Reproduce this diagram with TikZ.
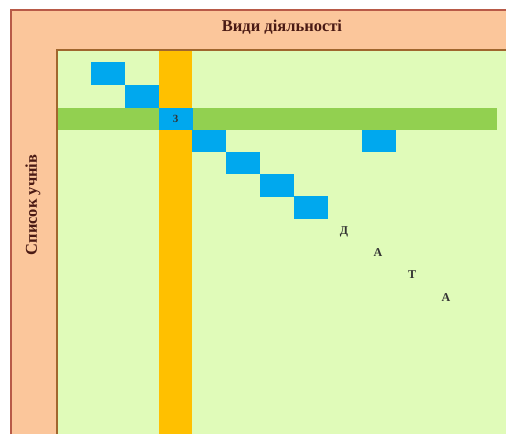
\documentclass[tikz,border=0pt]{standalone}
\usepackage{fontspec}
\setmainfont{Liberation Serif}
\definecolor{peach}{HTML}{FBC69B}
\definecolor{lgreen}{HTML}{E0FBB9}
\definecolor{orng}{HTML}{FFC000}
\definecolor{gbar}{HTML}{92D050}
\definecolor{cblue}{HTML}{00A8EE}
\definecolor{brd}{HTML}{B85A48}
\definecolor{brd2}{HTML}{A0662E}
\definecolor{ttext}{HTML}{4A1A14}
\begin{document}
\begin{tikzpicture}[x=1pt,y=-1pt,
  cell/.style={fill=cblue,draw=none,minimum width=34pt,minimum height=22.5pt,inner sep=0pt,outer sep=0pt,anchor=north west,font=\bfseries\fontsize{11}{12}\selectfont,text=black!80},
  letter/.style={font=\bfseries\fontsize{12}{14}\selectfont,inner sep=0pt,text=black!80},
  headtext/.style={font=\bfseries\fontsize{16.5}{18}\selectfont,text=ttext,inner sep=0pt}]
\useasboundingbox (0,0) rectangle (506,434);
\fill[white] (0,0) rectangle (506,434);
\fill[peach] (11,10) rectangle (506,434);
\fill[lgreen] (57,50) rectangle (506,434);
\fill[orng] (158.5,50) rectangle (192,434);
\fill[gbar] (57,107.5) rectangle (497,129.5);
% cells
\node[cell] (c1) at (91,62) {};
\node[cell] (c2) at (124.5,85) {};
\node[cell] (c3) at (158.5,107.5) {3};
\node[cell] (c4) at (192,129.5) {};
\node[cell] (c5) at (226,151.5) {};
\node[cell] (c6) at (260,174) {};
\node[cell] (c7) at (294,196) {};
\node[cell] (c8) at (362,129.5) {};
% letters
\node[letter] (l1) at (344,232) {Д};
\node[letter] (l2) at (378,253) {А};
\node[letter] (l3) at (412,275) {Т};
\node[letter] (l4) at (446,298) {А};
% borders
\draw[brd,line width=2pt] (11,434) -- (11,10) -- (506,10);
\draw[brd2,line width=1.6pt] (57,434) -- (57,50) -- (506,50);
% titles
\node[headtext] (h) at (282,27) {Види діяльності};
\node[headtext,rotate=90] (s) at (33,205) {Список учнів};
\end{tikzpicture}
\end{document}
